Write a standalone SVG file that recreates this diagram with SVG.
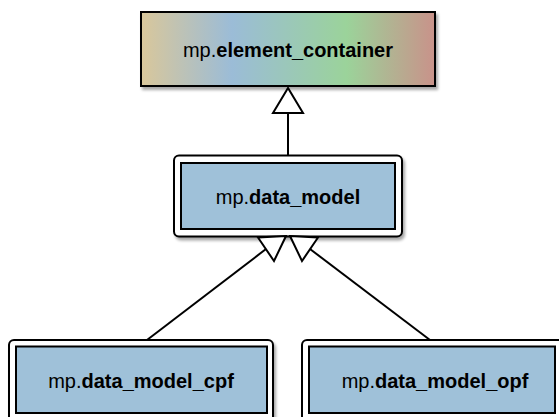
<svg xmlns="http://www.w3.org/2000/svg" width="559" height="417" viewBox="0 0 559 417">
<defs>
<linearGradient id="rainbow" x1="0" y1="0" x2="1" y2="0">
<stop offset="0" stop-color="#d9c79b"/>
<stop offset="0.31" stop-color="#9bbcd7"/>
<stop offset="0.70" stop-color="#9bd39a"/>
<stop offset="1" stop-color="#c9928a"/>
</linearGradient>
<filter id="sh" x="-10%" y="-10%" width="120%" height="130%">
<feGaussianBlur in="SourceAlpha" stdDeviation="1.5"/>
<feOffset dx="2" dy="3" result="b"/>
<feComponentTransfer><feFuncA type="linear" slope="0.35"/></feComponentTransfer>
<feMerge><feMergeNode/><feMergeNode in="SourceGraphic"/></feMerge>
</filter>
</defs>
<style>
.frame{fill:#ffffff;stroke:#000;stroke-width:2}
.inner{fill:#9fc1d9;stroke:#000;stroke-width:2}
.lbl{font-family:"Liberation Sans",Arial,sans-serif;font-size:20px;fill:#000;text-anchor:middle}
.b{font-weight:bold}
.edge{fill:none;stroke:#000;stroke-width:2}
.head{fill:#fff;stroke:#000;stroke-width:2;stroke-linejoin:miter}
</style>
<rect width="559" height="417" fill="#ffffff"/>
<g id="element_container">
<rect x="141" y="12" width="294" height="74" fill="url(#rainbow)" stroke="#000" stroke-width="2" filter="url(#sh)"/>
<text class="lbl" x="288" y="57">mp.<tspan class="b">element_container</tspan></text>
</g>
<g id="data_model">
<rect class="frame" x="174" y="155.5" width="228" height="81" rx="5" filter="url(#sh)"/>
<rect class="inner" x="181" y="163" width="214" height="66"/>
<text class="lbl" x="288" y="204">mp.<tspan class="b">data_model</tspan></text>
</g>
<g id="data_model_cpf">
<rect class="frame" x="9" y="340" width="264" height="82" rx="5" filter="url(#sh)"/>
<rect class="inner" x="16" y="346.5" width="251" height="66.5"/>
<text class="lbl" x="141" y="388">mp.<tspan class="b">data_model_cpf</tspan></text>
</g>
<g id="data_model_opf">
<rect class="frame" x="302" y="340" width="264" height="82" rx="5" filter="url(#sh)"/>
<rect class="inner" x="309" y="346.5" width="246" height="66.5"/>
<text class="lbl" x="435" y="388">mp.<tspan class="b">data_model_opf</tspan></text>
</g>
<g id="connectors">
<line class="edge" x1="288" y1="155" x2="288" y2="113"/>
<polygon class="head" points="288,88 273,113 303,113"/>
<line class="edge" x1="147" y1="340" x2="266" y2="249"/>
<polygon class="head" points="286,236 258,237.5 274,261"/>
<line class="edge" x1="430" y1="340" x2="310" y2="249"/>
<polygon class="head" points="290,236 318,237.5 302,261"/>
</g>
</svg>
